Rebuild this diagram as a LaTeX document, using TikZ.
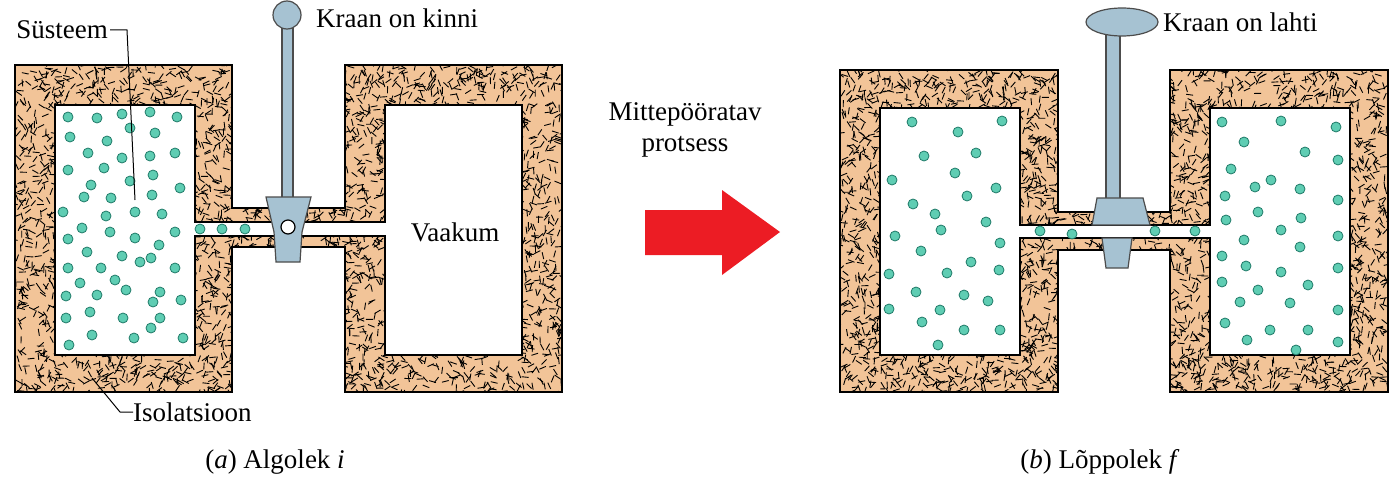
\documentclass[tikz,border=0pt]{standalone}
\usepackage{fontspec}
\setmainfont{Liberation Serif}
\begin{document}
\begin{tikzpicture}[x=1pt,y=-1pt,
  ins/.style={fill=insul,draw=black,line width=1.6pt},
  cav/.style={fill=white,draw=black,line width=1.6pt},
  gas/.style={fill=gasc,draw=gasd,line width=0.8pt},
  valve/.style={fill=valc,draw=black!70,line width=1.2pt},
  lbl/.style={font=\fontsize{27}{31}\selectfont,inner sep=0pt},
  lead/.style={draw=black,line width=1pt}]
\definecolor{insul}{HTML}{F2C498}
\definecolor{gasc}{HTML}{5FCDB3}
\definecolor{gasd}{HTML}{1F7A68}
\definecolor{valc}{HTML}{A6C2D2}
\definecolor{arrowred}{HTML}{EC1C24}
\useasboundingbox (0,0) rectangle (1400,487);
\pgfmathsetseed{7}
% ---------- (a) ----------
\def\outA{(15,65)--(232,65)--(232,208)--(345,208)--(345,65)--(562,65)--(562,392)--(345,392)--(345,247)--(232,247)--(232,392)--(15,392)--cycle}
\fill[insul] \outA;
\begin{scope}
\clip \outA;
\foreach \i in {1,...,4600}{
  \pgfmathsetmacro\xx{15+547*rnd}\pgfmathsetmacro\yy{65+327*rnd}\pgfmathsetmacro\aa{360*rnd}
  \draw[line width=0.9pt] (\xx,\yy) -- ++(\aa:7);}
\end{scope}
\draw[line width=1.6pt] \outA;
\path[cav] (55,105)--(195,105)--(195,222)--(385,222)--(385,105)--(522,105)--(522,355)--(385,355)--(385,236)--(195,236)--(195,355)--(55,355)--cycle;
\foreach \p in {(68,117),(97,118),(122,114),(150,112),(177,117),(70,137),(107,141),(130,128),(155,133),(88,153),(122,158),(150,156),(175,153),(68,170),(104,168),(91,185),(130,181),(153,175),(180,188),(63,212),(84,197),(111,198),(152,195),(82,228),(106,216),(135,212),(162,214),(68,239),(110,232),(135,238),(159,245),(175,232),(87,252),(122,256),(151,258),(68,268),(101,268),(140,262),(175,268),(80,283),(115,280),(126,290),(160,292),(66,296),(97,295),(153,302),(181,300),(66,318),(90,312),(123,318),(160,318),(92,335),(134,338),(183,338),(69,345),(151,328),(200,229),(222,229),(245,229)}
  \path[gas] \p circle (5);
\path[valve] (282,28) rectangle (293,200);
\path[valve] (287,15) circle (14);
\path[valve] (266,197)--(311,197)--(302,232)--(300,262)--(276,262)--(274,232)--cycle;
\path[fill=white,draw=black,line width=1.2pt] (288,227) circle (7);
\node[lbl,anchor=west] (kk) at (316,18) {Kraan on kinni};
\node[lbl] (vak) at (455,232) {Vaakum};
\node[lbl,anchor=east] (sys) at (108,30) {Süsteem};
\draw[lead] (sys.east)++(2,0) -- (127,30) -- (135,200);
\node[lbl,anchor=west] (iso) at (133,412) {Isolatsioon};
\draw[lead] (iso.west) -- (120,412) -- (92,378);
\node[lbl] (capa) at (275,462) {(\textit{a}) Algolek \textit{i}};
% ---------- arrow ----------
\node[lbl,align=center] (mp) at (685,130) {Mittepööratav\\protsess};
\path[fill=arrowred] (645,210)--(722,210)--(722,190)--(780,232)--(722,275)--(722,255)--(645,255)--cycle;
% ---------- (b) ----------
\def\outB{(840,70)--(1058,70)--(1058,212)--(1170,212)--(1170,70)--(1388,70)--(1388,392)--(1170,392)--(1170,250)--(1058,250)--(1058,392)--(840,392)--cycle}
\fill[insul] \outB;
\begin{scope}
\clip \outB;
\foreach \i in {1,...,4600}{
  \pgfmathsetmacro\xx{840+548*rnd}\pgfmathsetmacro\yy{70+322*rnd}\pgfmathsetmacro\aa{360*rnd}
  \draw[line width=0.9pt] (\xx,\yy) -- ++(\aa:7);}
\end{scope}
\draw[line width=1.6pt] \outB;
\path[cav] (880,108)--(1020,108)--(1020,225)--(1210,225)--(1210,108)--(1350,108)--(1350,355)--(1210,355)--(1210,238)--(1020,238)--(1020,355)--(880,355)--cycle;
\path[valve] (1106,30) rectangle (1120,200);
\path[valve] (1122,22) ellipse (36 and 14);
\path[valve] (1097,198)--(1143,198)--(1150,225)--(1092,225)--cycle;
\path[valve] (1102,238)--(1132,238)--(1128,268)--(1106,268)--cycle;
\foreach \p in {(912,122),(1002,121),(958,132),(924,156),(976,153),(892,180),(955,173),(913,204),(967,196),(996,188),(935,214),(986,222),(895,236),(941,230),(1000,243),(921,251),(971,262),(889,274),(947,273),(999,270),(916,292),(964,295),(889,309),(940,310),(988,301),(922,322),(964,330),(938,345),(1000,330),
(1222,122),(1281,121),(1336,127),(1244,142),(1305,152),(1231,169),(1271,180),(1338,160),(1225,196),(1255,187),(1300,189),(1338,200),(1226,220),(1258,212),(1301,218),(1338,236),(1244,240),(1281,230),(1222,256),(1300,247),(1246,266),(1281,272),(1338,268),(1222,282),(1308,285),(1258,290),(1338,310),(1240,302),(1290,303),(1225,323),(1270,330),(1308,330),(1247,340),(1338,342),(1296,350),
(1040,231),(1072,234),(1155,231),(1195,231)}
  \path[gas] \p circle (5);
\node[lbl,anchor=west] (kl) at (1163,22) {Kraan on lahti};
\node[lbl] (capb) at (1100,462) {(\textit{b}) Lõppolek \textit{f}};
\end{tikzpicture}
\end{document}
